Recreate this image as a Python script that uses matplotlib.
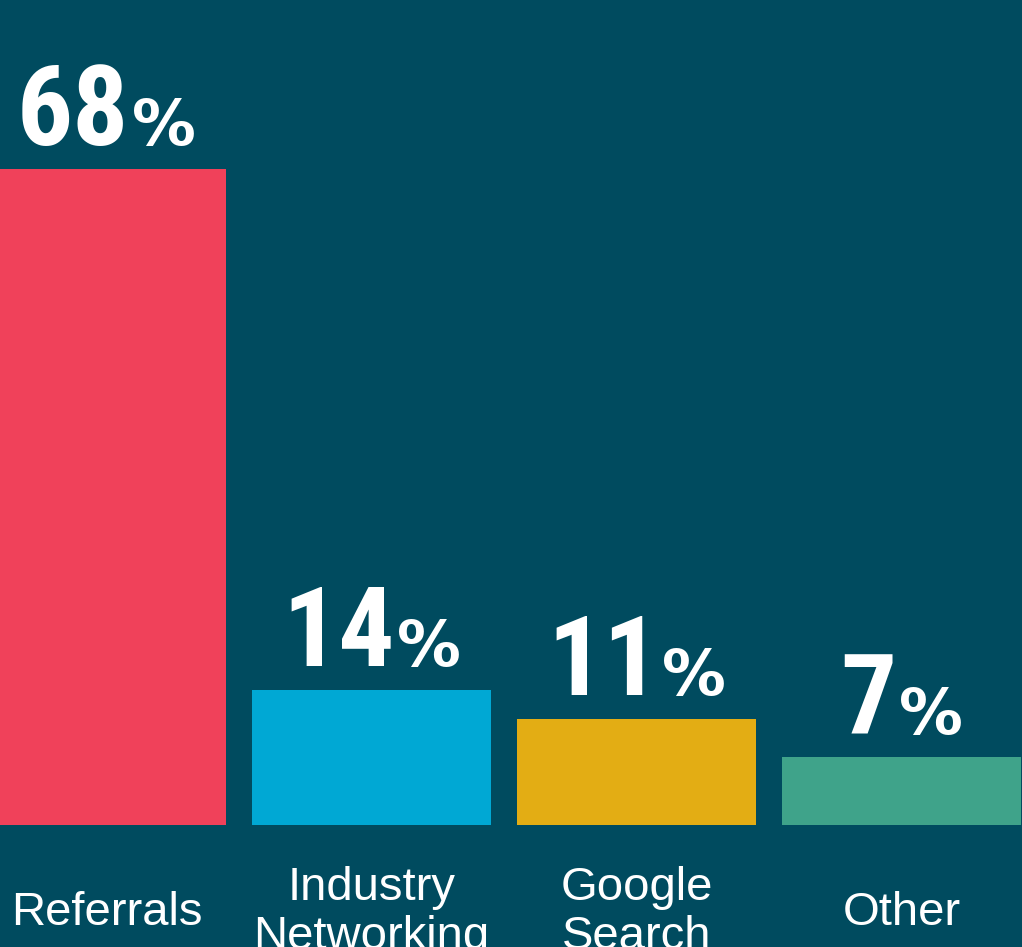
"""
Bar chart: where new business comes from (share of responses, %).
"""

import matplotlib
matplotlib.use("Agg")
import matplotlib.pyplot as plt
from matplotlib.offsetbox import AnnotationBbox, HPacker, TextArea

categories = ["Referrals", "Industry\nNetworking", "Google\nSearch", "Other"]
shares = [68, 14, 11, 7]
bar_colors = ["#f0415a", "#00a8d4", "#e3ad14", "#3fa38a"]

BG = "#004b5f"
NUM_FONT = ["Roboto Condensed", "DejaVu Sans"]
PCT_FONT = ["DejaVu Sans"]
LABEL_FONT = ["Liberation Sans", "DejaVu Sans"]


def main() -> None:
    fig = plt.figure(figsize=(10.22, 9.47), dpi=100, facecolor=BG)
    # axes spans the full width; bottom edge sits where the bars start
    ax = fig.add_axes([0, 122 / 947, 1, 825 / 947])
    ax.set_facecolor(BG)

    x = list(range(len(categories)))
    ax.bar(x, shares, width=0.902, color=bar_colors, linewidth=0)

    ax.set_xlim(-106.5 / 265, (1022 - 106.5) / 265)
    ax.set_ylim(0, 85.5)
    ax.axis("off")

    # value labels: big bold number followed by a smaller percent sign
    for xi, v in zip(x, shares):
        num = TextArea(str(v), textprops=dict(color="white", fontsize=80,
                                              fontweight="bold",
                                              family=NUM_FONT))
        pct = TextArea("%", textprops=dict(color="white", fontsize=46,
                                           fontweight="bold",
                                           family=PCT_FONT))
        box = HPacker(children=[num, pct], align="baseline", pad=0, sep=2)
        ab = AnnotationBbox(box, (xi, v), xybox=(0, 0.5),
                            boxcoords="offset points",
                            box_alignment=(0.5, 0), frameon=False, pad=0,
                            annotation_clip=False)
        ax.add_artist(ab)

    # category names under the bars
    for xi, name in zip(x, categories):
        ax.annotate(name, xy=(xi, 0), xytext=(0, -63),
                    textcoords="offset points", ha="center", va="center",
                    color="white", fontsize=34, family=LABEL_FONT,
                    linespacing=1.17, annotation_clip=False)

    fig.savefig("out.png", dpi=100, facecolor=BG)
    plt.close(fig)


if __name__ == "__main__":
    main()
